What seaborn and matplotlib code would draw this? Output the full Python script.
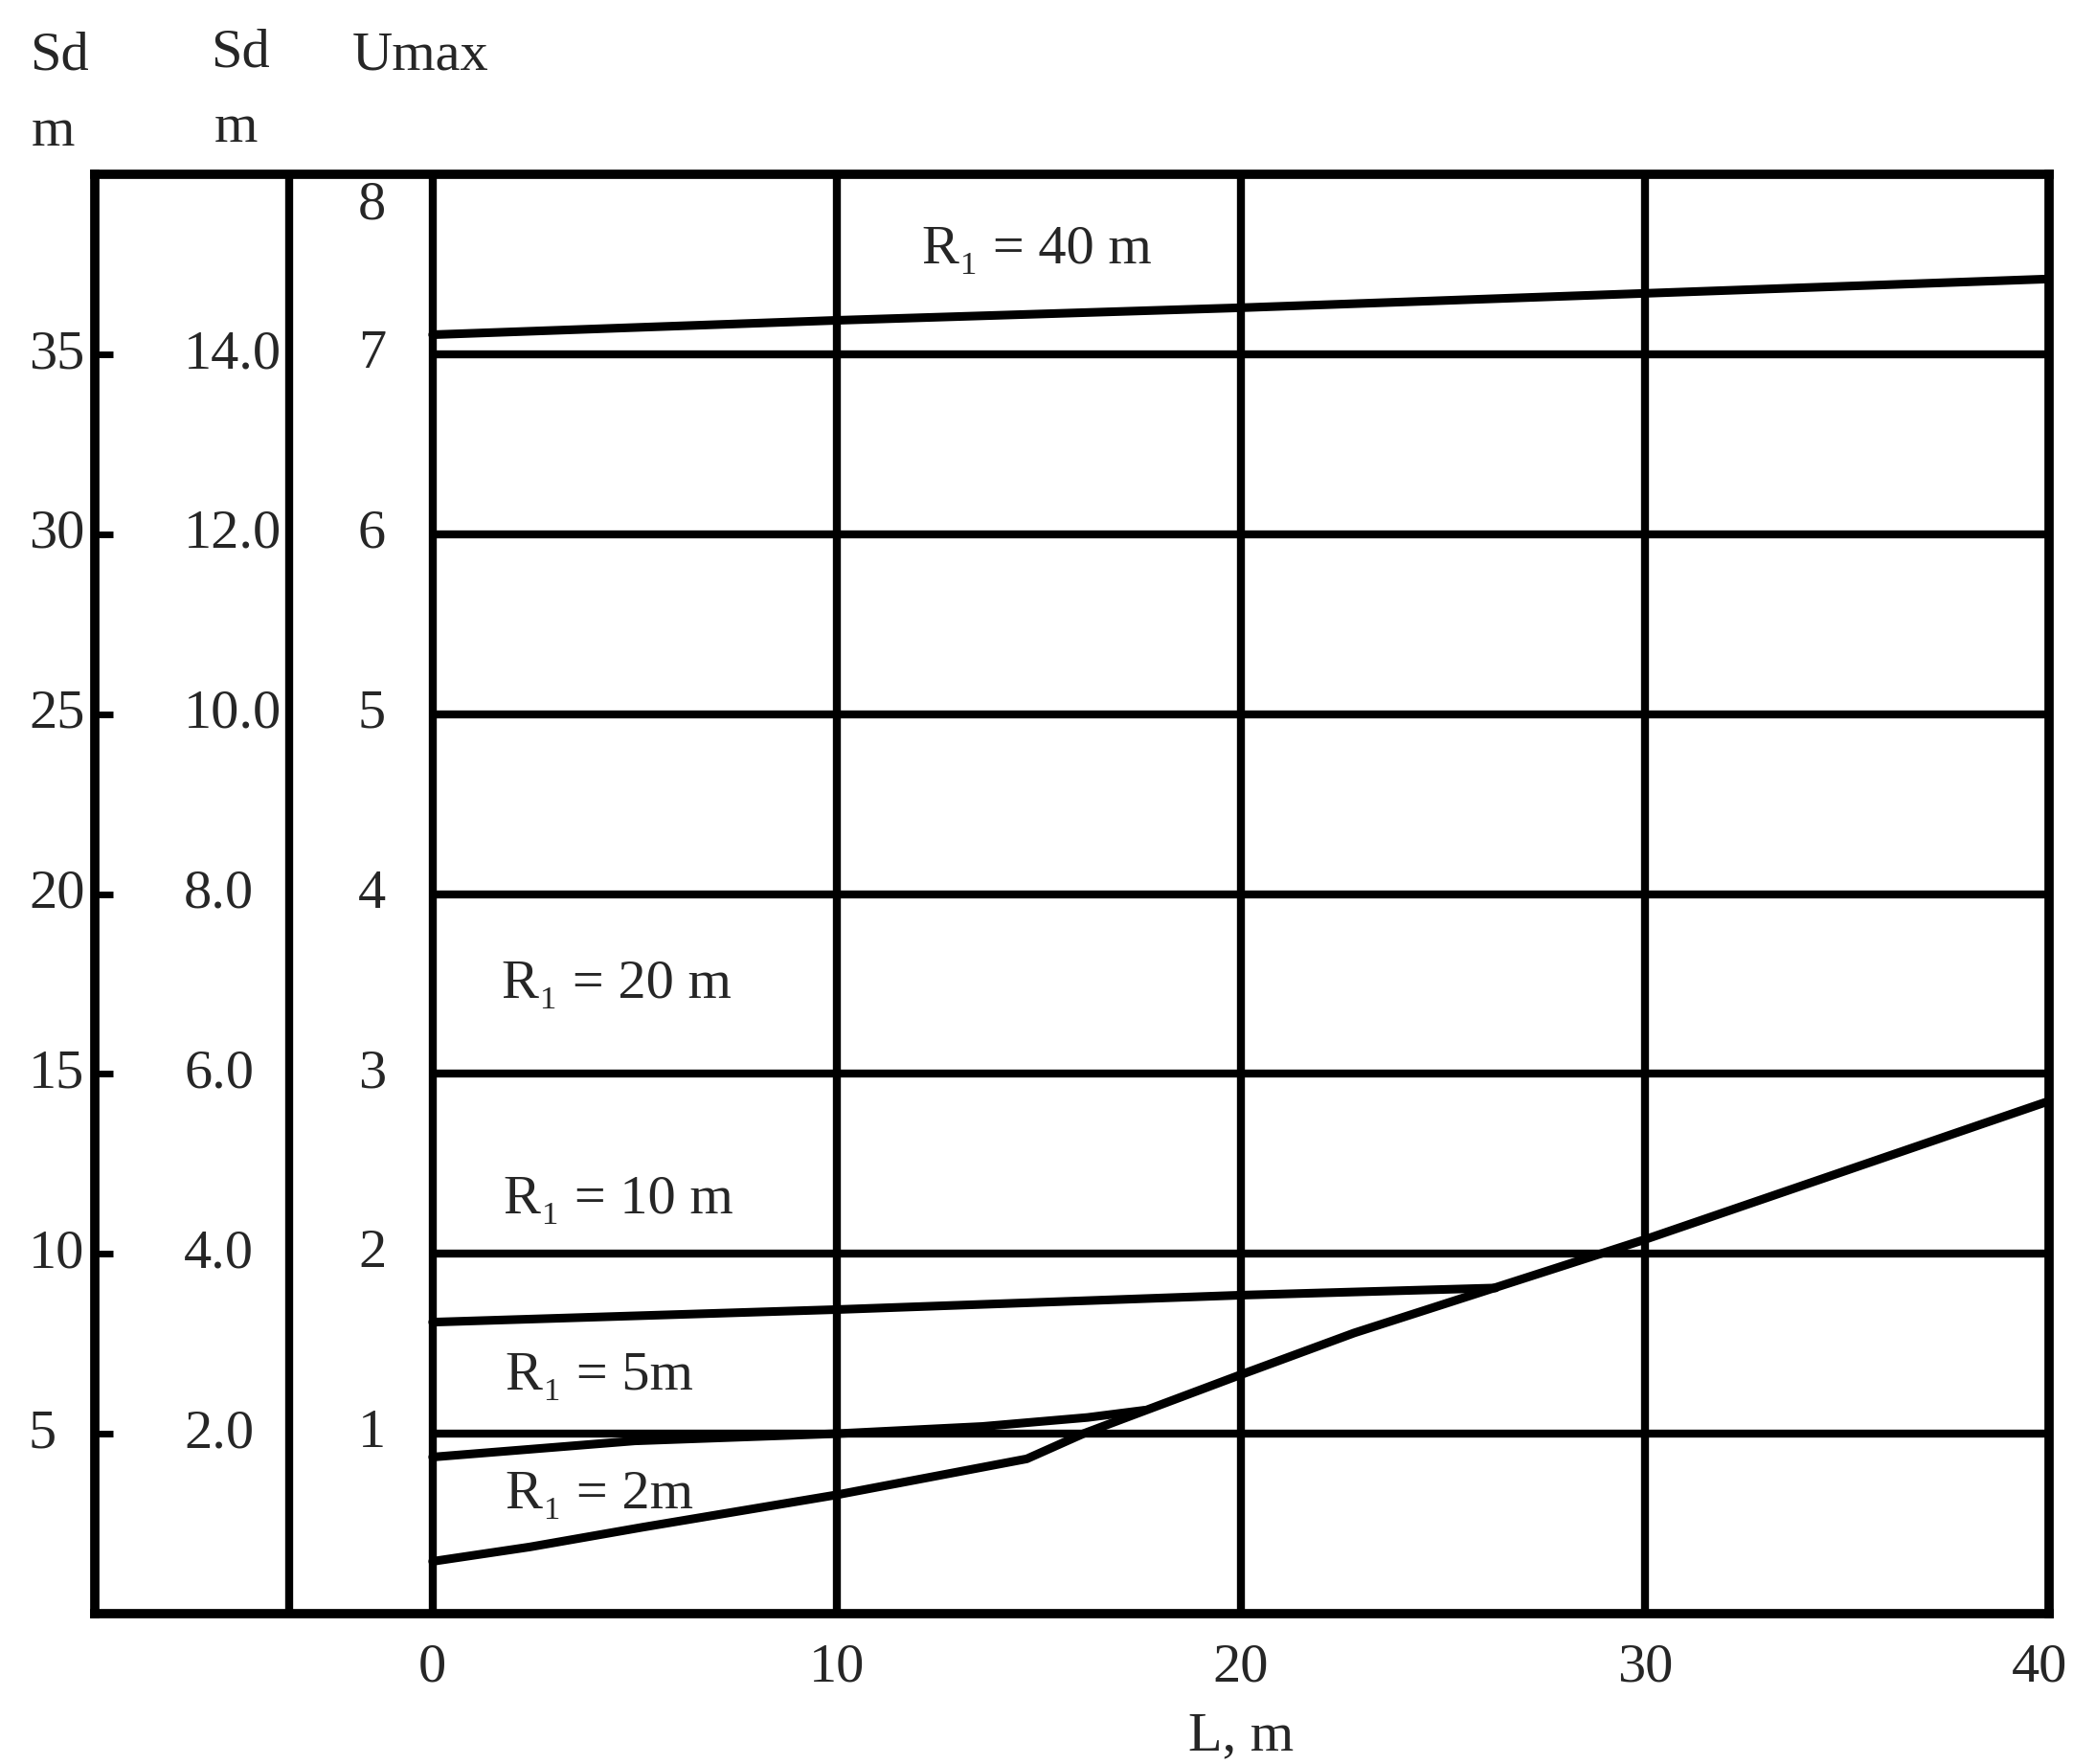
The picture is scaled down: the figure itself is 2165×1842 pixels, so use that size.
import pandas as pd
import matplotlib
matplotlib.use('Agg')
import matplotlib.pyplot as plt
import matplotlib.transforms as mtransforms
import seaborn as sns

sns.set_theme(style='white')
plt.rcParams['font.family'] = ['Liberation Serif', 'DejaVu Serif']

# curves (L in m, Umax)
L_r40 = [0, 10, 20, 30, 40]
U_r40 = [7.11, 7.19, 7.26, 7.34, 7.42]
L_r10 = [0, 10, 20, 26.3]
U_r10 = [1.62, 1.69, 1.77, 1.81]
L_r5 = [0, 5, 10, 13.6, 16.2, 17.6]
U_r5 = [0.87, 0.96, 1.0, 1.04, 1.09, 1.13]
L_r2 = [0, 2.4, 5.2, 10, 14.7, 16.1, 19.9, 22.8, 30, 40]
U_r2 = [0.29, 0.37, 0.48, 0.66, 0.86, 1.0, 1.32, 1.56, 2.08, 2.85]

# scales
umax_ticks = [1, 2, 3, 4, 5, 6, 7]
sd_5 = ['5', '10', '15', '20', '25', '30', '35']
sd_2 = ['2.0', '4.0', '6.0', '8.0', '10.0', '12.0', '14.0']
L_ticks = [0, 10, 20, 30, 40]

curve_labels = ['R\u2081 = 40 m', 'R\u2081 = 20 m', 'R\u2081 = 10 m', 'R\u2081 = 5m', 'R\u2081 = 2m']
label_x = [12.1, 1.7, 1.75, 1.8, 1.8]
label_y = [7.58, 3.5, 2.3, 1.32, 0.66]

frames = []
for name, xs, ys in [('40', L_r40, U_r40), ('10', L_r10, U_r10), ('5', L_r5, U_r5), ('2', L_r2, U_r2)]:
    frames.append(pd.DataFrame({'L': xs, 'U': ys, 'R': name}))
df = pd.concat(frames, ignore_index=True)

fig = plt.figure(figsize=(21.65, 18.42), dpi=100)
ax = fig.add_axes([0.0459, 0.0853, 0.9427, 0.8157])

x_left = -8.35
x_div = -3.56
ax.set_xlim(x_left, 40)
ax.set_ylim(0, 8)

lw = 6.0
# grid of the nomogram
ax.hlines(umax_ticks, 0, 40, color='black', lw=lw)
for xv in [x_div, 0, 10, 20, 30]:
    ax.axvline(xv, color='black', lw=lw)

sns.lineplot(data=df, x='L', y='U', hue='R', palette=['black'] * 4,
             linewidth=6.5, legend=False, sort=False, ax=ax)

for s in ax.spines.values():
    s.set_color('black')
    s.set_linewidth(7)

fs = 42
# outer Sd scale (ticks on the left spine)
ax.set_yticks(umax_ticks)
ax.set_yticklabels([])
ax.tick_params(axis='y', direction='in', length=14, width=5, color='black', left=True)
for u, lab in zip(umax_ticks, sd_5):
    ax.text(-0.034, u, lab, transform=ax.get_yaxis_transform(), ha='left', va='center', fontsize=fs)
# inner Sd scale
for u, lab in zip(umax_ticks, sd_2):
    ax.text(-6.15, u, lab, ha='left', va='center', fontsize=fs)
# Umax scale
for u in umax_ticks:
    ax.text(-1.5, u, str(u), ha='center', va='center', fontsize=fs)
ax.text(-1.5, 7.83, '8', ha='center', va='center', fontsize=fs)

ax.set_xticks(L_ticks)
ax.set_xticklabels([str(v) for v in L_ticks], fontsize=fs)
ax.tick_params(axis='x', length=0, pad=22)
last = ax.get_xticklabels()[-1]
last.set_transform(last.get_transform() + mtransforms.ScaledTranslation(-0.1, 0, fig.dpi_scale_trans))
ax.set_xlabel('L, m', fontsize=fs)
ax.xaxis.set_label_coords((20 - x_left) / (40 - x_left), -0.068)
ax.set_ylabel('')

for lab, lx, ly in zip(curve_labels, label_x, label_y):
    ax.text(lx, ly, lab, ha='left', va='center', fontsize=fs)

# column headers
fig.text(0.0286, 0.968, 'Sd', ha='center', va='center', fontsize=fs)
fig.text(0.0254, 0.925, 'm', ha='center', va='center', fontsize=fs)
fig.text(0.116, 0.970, 'Sd', ha='center', va='center', fontsize=fs)
fig.text(0.1136, 0.927, 'm', ha='center', va='center', fontsize=fs)
fig.text(0.203, 0.968, 'Umax', ha='center', va='center', fontsize=fs)

fig.savefig('out.png', dpi=100, facecolor='white')
